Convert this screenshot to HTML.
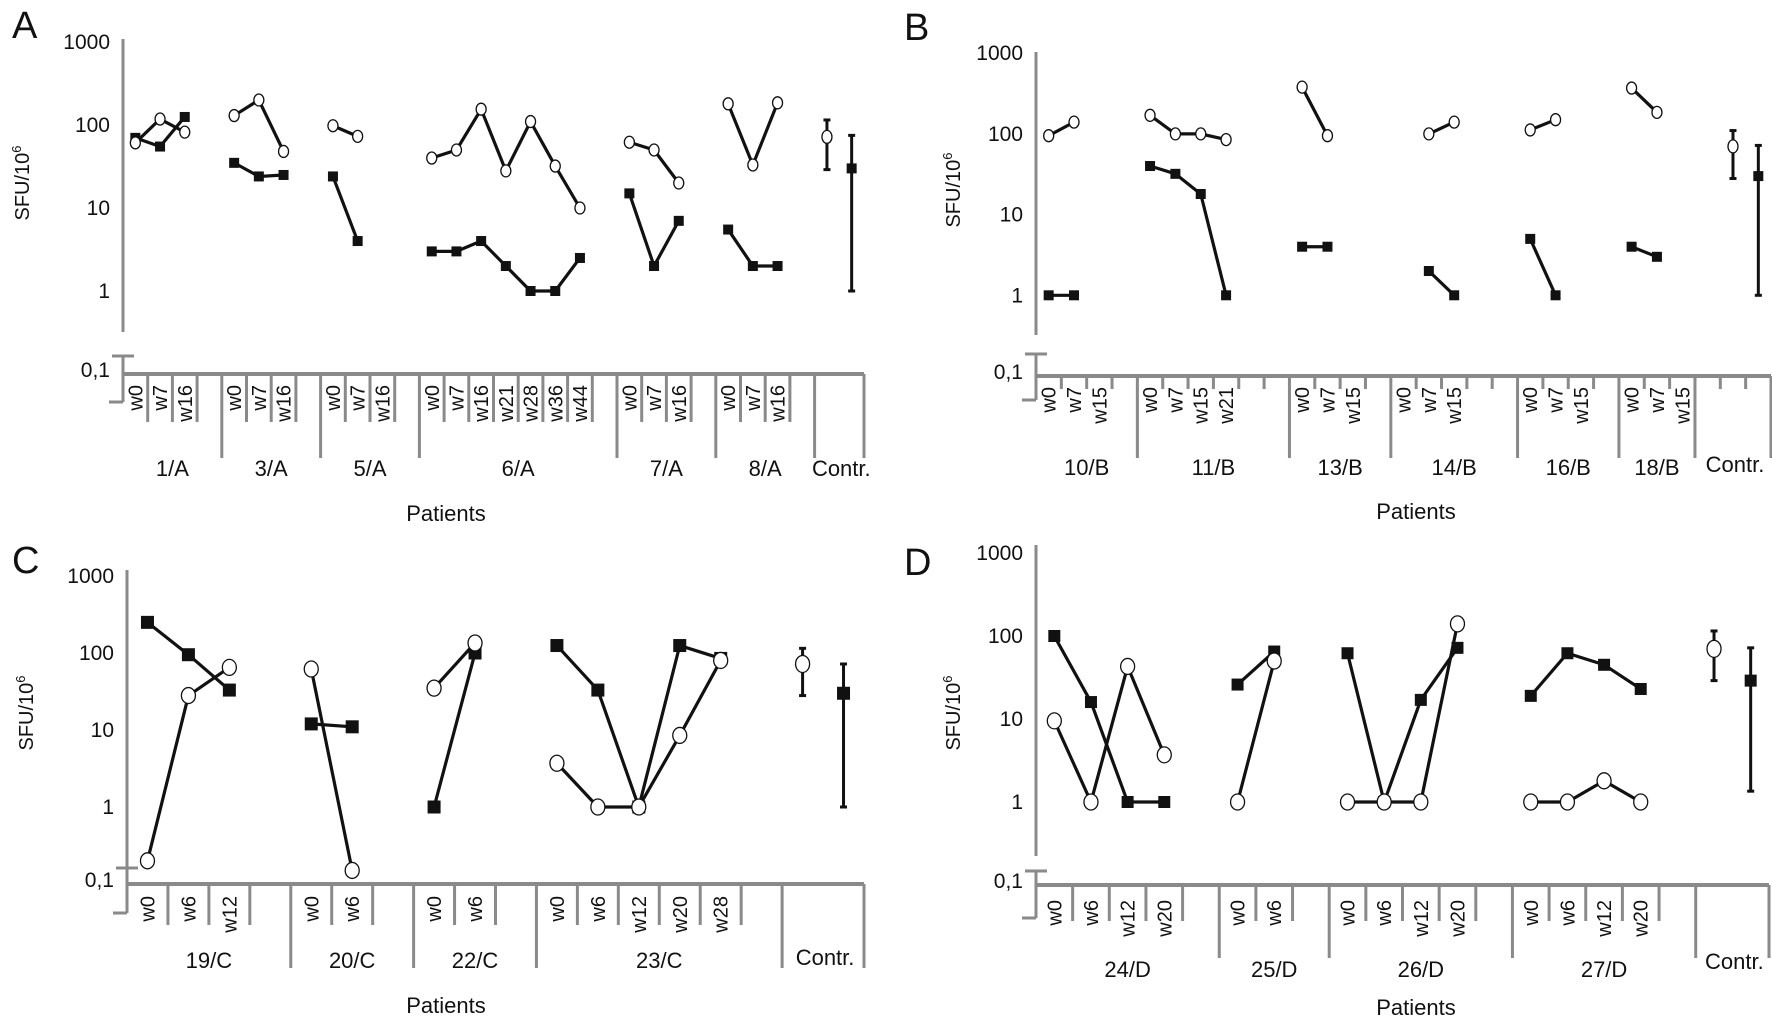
<!DOCTYPE html>
<html><head><meta charset="utf-8"><title>SFU per patient panels</title>
<style>
html,body{margin:0;padding:0;background:#fff;}
svg{display:block;font-family:"Liberation Sans",sans-serif;}
</style></head>
<body>
<svg id="chart" width="1772" height="1026" viewBox="0 0 1772 1026" xmlns="http://www.w3.org/2000/svg"></svg>
<script>
// ---- Panel A data ----
const groupsA = ["1/A","3/A","5/A","6/A","7/A","8/A"];
const weeksA = [["w0","w7","w16"],["w0","w7","w16"],["w0","w7","w16"],["w0","w7","w16","w21","w28","w36","w44"],["w0","w7","w16"],["w0","w7","w16"]];
const slotsA = [4,4,4,8,4,4];
const openA = [[61,118,82],[130,200,48],[98,73,null],[40,50,155,28,110,32,10],[62,50,20],[180,33,185]];
const filledA = [[70,55,125],[35,24,25],[24,4,null],[3,3,4,2,1,1,2.5],[15,2,7],[5.5,2,2]];
const ctrlOpenA = [72,29,115];
const ctrlFilledA = [30,1,75];
// ---- Panel B data ----
const groupsB = ["10/B","11/B","13/B","14/B","16/B","18/B"];
const weeksB = [["w0","w7","w15"],["w0","w7","w15","w21"],["w0","w7","w15"],["w0","w7","w15"],["w0","w7","w15"],["w0","w7","w15"]];
const slotsB = [4,6,4,5,4,3];
const openB = [[95,140,null],[170,100,100,85],[380,95,null],[null,100,140],[112,150,null],[370,185,null]];
const filledB = [[1,1,null],[40,32,18,1],[4,4,null],[null,2,1],[5,1,null],[4,3,null]];
const ctrlOpenB = [70,28,110];
const ctrlFilledB = [30,1,72];
// ---- Panel C data ----
const groupsC = ["19/C","20/C","22/C","23/C"];
const weeksC = [["w0","w6","w12"],["w0","w6"],["w0","w6"],["w0","w6","w12","w20","w28"]];
const slotsC = [4,3,3,6];
const openC = [[0.2,28,65],[62,0.15],[35,135],[3.7,1,1,8.5,80]];
const filledC = [[250,95,33],[12,11],[1,100],[125,33,1,125,85]];
const ctrlOpenC = [72,28,115];
const ctrlFilledC = [30,1,72];
// ---- Panel D data ----
const groupsD = ["24/D","25/D","26/D","27/D"];
const weeksD = [["w0","w6","w12","w20"],["w0","w6"],["w0","w6","w12","w20"],["w0","w6","w12","w20"]];
const slotsD = [5,3,5,5];
const openD = [[9.5,1,43,3.7],[1,50],[1,1,1,140],[1,1,1.8,1]];
const filledD = [[100,16,1,1],[26,65],[62,1,17,72],[19,62,45,23]];
const ctrlOpenD = [70,29,115];
const ctrlFilledD = [29,1.35,72];
const yTicks = [1000,100,10,1];
const yTickLabels = ["1000","100","10","1"];

const NS = "http://www.w3.org/2000/svg";
const svg = document.getElementById("chart");
function mk(tag, attrs, parent){
  const e = document.createElementNS(NS, tag);
  for (const k in attrs) e.setAttribute(k, attrs[k]);
  (parent||svg).appendChild(e);
  return e;
}
const AX = "#8a8a8a";

function drawPanel(P){
  const g = mk("g", {});
  
  
  const totalSlots = P.slots.reduce((a,b)=>a+b,0) + P.ctrlSlots;
  const sw = (P.right - P.x0) / totalSlots;
  const y = v => P.hAxis - (Math.log10(v) + 1) * P.dec;
  const xs = i => P.x0 + (i + 0.5) * sw;

  const L = mk("text", {x:P.lx, y:P.ly, "font-size":38, fill:"#111"}, g);
  L.textContent = P.letter;
  
  

  const ya = mk("line", {x1:P.x0, y1:P.axTop, x2:P.x0, y2:P.axBot, stroke:AX, "stroke-width":3}, g);
  
  
  mk("line", {x1:P.x0-11, y1:P.b1, x2:P.x0+11, y2:P.b1, stroke:AX, "stroke-width":3}, g);
  mk("line", {x1:P.x0, y1:P.b1, x2:P.x0, y2:P.b2, stroke:AX, "stroke-width":3}, g);
  mk("line", {x1:P.x0-14, y1:P.b2, x2:P.x0, y2:P.b2, stroke:AX, "stroke-width":3}, g);
  const xa = mk("line", {x1:P.x0, y1:P.hAxis, x2:P.right, y2:P.hAxis, stroke:AX, "stroke-width":4}, g);
  
  

  yTicks.forEach((v,i)=>{
    const t = mk("text", {x:P.x0-13, y:y(v)+7, "font-size":21, "text-anchor":"end", fill:"#111"}, g);
    t.textContent = yTickLabels[i];
    
    
  });
  const t01 = mk("text", {x:P.x0-13, y:P.hAxis+3, "font-size":21, "text-anchor":"end", fill:"#111"}, g);
  t01.textContent = "0,1";
  
  

  const yt = mk("text", {x:P.sx, y:P.sy, "font-size":20, "text-anchor":"middle", fill:"#111", transform:"rotate(-90 "+P.sx+" "+P.sy+")"}, g);
  yt.innerHTML = "SFU/10<tspan font-size='13' dy='-8'>6</tspan>";
  
  

  let s = 0;
  const seg = (ptsArr) => {
    let run = [];
    const runs = [];
    ptsArr.forEach(p => { if (p) run.push(p); else { if (run.length) runs.push(run); run = []; } });
    if (run.length) runs.push(run);
    return runs;
  };
  P.groups.forEach((name, gi) => {
    const n = P.slots[gi];
    for (let k = 1; k <= n; k++) {
      const xx = P.x0 + (s + k) * sw;
      const long = k === n;
      mk("line", {x1:xx, y1:P.hAxis, x2:xx, y2: long ? P.longEnd : P.shortEnd, stroke:AX, "stroke-width":3}, g);
    }
    P.weeks[gi].forEach((w, wi) => {
      const cx = xs(s + wi) + 7;
      const t = mk("text", {x:cx, y:P.wTop, "font-size":20, "text-anchor":"end", fill:"#111", transform:"rotate(-90 "+cx+" "+P.wTop+")"}, g);
      t.textContent = w;
      
      
    });
    const gl = mk("text", {x:P.x0 + (s + n/2) * sw, y:P.gY, "font-size":22, "text-anchor":"middle", fill:"#111"}, g);
    gl.textContent = name;
    
    

    const op = P.open[gi].map((v,i)=> v==null?null:[xs(s+i), y(v)]);
    const fp = P.filled[gi].map((v,i)=> v==null?null:[xs(s+i), y(v)]);
    seg(fp).forEach(r => { if (r.length>1) { const pl = mk("polyline", {points:r.map(p=>p.join(",")).join(" "), fill:"none", stroke:"#111", "stroke-width":3.2}, g);   } });
    seg(op).forEach(r => { if (r.length>1) { const pl = mk("polyline", {points:r.map(p=>p.join(",")).join(" "), fill:"none", stroke:"#111", "stroke-width":3.2}, g);   } });
    fp.forEach(p => { if (p) { const r = mk("rect", {x:p[0]-P.sq/2, y:p[1]-P.sq/2, width:P.sq, height:P.sq, fill:"#111"}, g);   } });
    op.forEach(p => { if (p) { const c = mk("ellipse", {cx:p[0], cy:p[1], rx:P.cr, ry:P.cr+1, fill:"#fff", stroke:"#111", "stroke-width":1.3}, g);   } });
    s += n;
  });
  const cs = s, cn = P.ctrlSlots;
  if (P.ctrlMid) {
    for (let k = 1; k < cn; k++) { const xx = P.x0 + (cs + k) * sw; mk("line", {x1:xx, y1:P.hAxis, x2:xx, y2:P.shortEnd, stroke:AX, "stroke-width":3}, g); }
  }
  mk("line", {x1:P.right, y1:P.hAxis, x2:P.right, y2:P.longEnd, stroke:AX, "stroke-width":3}, g);
  const cl = mk("text", {x:P.x0 + (cs + cn/2) * sw + 2, y:P.cY, "font-size":22, "text-anchor":"middle", fill:"#111"}, g);
  cl.textContent = "Contr.";
  
  
  const cxO = xs(cs + cn - 2), cxF = xs(cs + cn - 1);
  [[cxO, P.ctrlOpen, 'open'], [cxF, P.ctrlFilled, 'filled']].forEach(([cx, arr, kind]) => {
    const eb = mk("line", {x1:cx, y1:y(arr[1]), x2:cx, y2:y(arr[2]), stroke:"#111", "stroke-width":3}, g);
    
    
    mk("line", {x1:cx-3.5, y1:y(arr[1]), x2:cx+3.5, y2:y(arr[1]), stroke:"#111", "stroke-width":3}, g);
    mk("line", {x1:cx-3.5, y1:y(arr[2]), x2:cx+3.5, y2:y(arr[2]), stroke:"#111", "stroke-width":3}, g);
    if (kind === 'open') {
      const c = mk("ellipse", {cx:cx, cy:y(arr[0]), rx:P.cr, ry:P.cr+1.5, fill:"#fff", stroke:"#111", "stroke-width":1.3}, g);
      
      
    } else {
      const r = mk("rect", {x:cx-P.sq/2, y:y(arr[0])-P.sq/2, width:P.sq, height:P.sq, fill:"#111"}, g);
      
      
    }
  });
  const pt = mk("text", {x:P.px, y:P.pY, "font-size":22, "text-anchor":"middle", fill:"#111"}, g);
  pt.textContent = "Patients";
  
  
}

drawPanel({letter:"A", lx:12, ly:38, x0:123, right:864, hAxis:374, dec:83, axTop:39, axBot:332, b1:356, b2:402,
  shortEnd:422, longEnd:458, wTop:385, gY:476, cY:476, pY:521, px:446, sx:29, sy:183, sq:10, cr:5,
  groups:groupsA, weeks:weeksA, slots:slotsA, open:openA, filled:filledA, ctrlSlots:2, ctrlMid:false, ctrlOpen:ctrlOpenA, ctrlFilled:ctrlFilledA});
drawPanel({letter:"B", lx:904, ly:40, x0:1036, right:1771, hAxis:376, dec:80.7, axTop:52, axBot:335, b1:354, b2:400,
  shortEnd:389, longEnd:458, wTop:387, gY:475, cY:472, pY:519, px:1416, sx:960, sy:190, sq:10, cr:5,
  groups:groupsB, weeks:weeksB, slots:slotsB, open:openB, filled:filledB, ctrlSlots:3, ctrlMid:true, ctrlOpen:ctrlOpenB, ctrlFilled:ctrlFilledB});
drawPanel({letter:"C", lx:12, ly:573, x0:127, right:864, hAxis:884, dec:77, axTop:570, axBot:868, b1:868, b2:913,
  shortEnd:925, longEnd:968, wTop:896, gY:968, cY:965, pY:1013, px:446, sx:33, sy:713, sq:13, cr:7,
  groups:groupsC, weeks:weeksC, slots:slotsC, open:openC, filled:filledC, ctrlSlots:2, ctrlMid:false, ctrlOpen:ctrlOpenC, ctrlFilled:ctrlFilledC});
drawPanel({letter:"D", lx:904, ly:575, x0:1036, right:1769, hAxis:885, dec:83, axTop:545, axBot:856, b1:871, b2:918,
  shortEnd:921, longEnd:958, wTop:900, gY:977, cY:969, pY:1015, px:1416, sx:960, sy:713, sq:12, cr:7,
  groups:groupsD, weeks:weeksD, slots:slotsD, open:openD, filled:filledD, ctrlSlots:2, ctrlMid:false, ctrlOpen:ctrlOpenD, ctrlFilled:ctrlFilledD});
</script>
</body></html>
